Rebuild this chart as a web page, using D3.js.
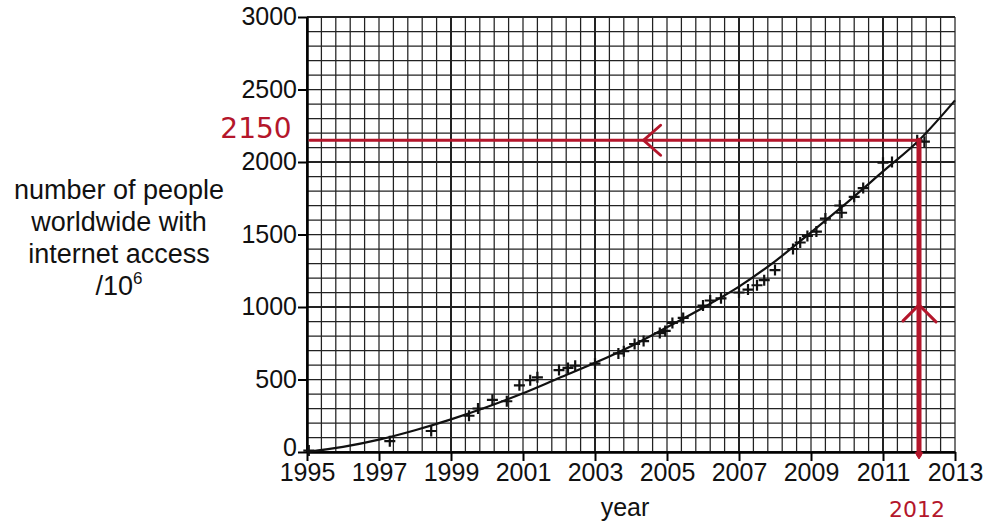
<!DOCTYPE html>
<html>
<head>
<meta charset="utf-8">
<script src="https://cdn.jsdelivr.net/npm/d3@7"></script>
<style>
  body { margin: 0; background: #fff; }
  svg { display: block; }
  svg text { font-family: "Liberation Sans", Arial, sans-serif; }
</style>
</head>
<body>
<div id="chart"></div>
<script>
// plotted measurements (year, millions of people)
const pointYears = [1995.05, 1997.3, 1998.45, 1999.5, 1999.75, 2000.15, 2000.55, 2000.9, 2001.2, 2001.4,
    2002.0, 2002.25, 2002.45, 2003.0, 2003.65, 2003.8, 2004.1, 2004.35, 2004.8, 2004.95,
    2005.15, 2005.45, 2006.0, 2006.2, 2006.5, 2007.0, 2007.25, 2007.5, 2007.7, 2008.0,
    2008.5, 2008.7, 2008.9, 2009.15, 2009.4, 2009.85, 2009.8, 2010.2, 2010.45, 2011.0,
    2011.25, 2011.95, 2012.15];
const pointValues = [10, 75, 145, 250, 300, 360, 350, 460, 495, 515,
    565, 580, 595, 610, 680, 695, 745, 765, 820, 835,
    890, 925, 1010, 1045, 1060, 1100, 1120, 1150, 1185, 1255,
    1400, 1445, 1490, 1520, 1610, 1650, 1700, 1760, 1820, 1995,
    2000, 2150, 2140];

// hand-drawn best fit curve, read at whole years
const curveYears = [1995, 1996, 1997, 1998, 1999, 2000, 2001, 2002, 2003, 2004,
    2005, 2006, 2007, 2008, 2009, 2010, 2011, 2012, 2013];
const curveValues = [0, 35, 85, 150, 225, 310, 405, 510, 615, 730,
    860, 995, 1140, 1315, 1515, 1720, 1935, 2150, 2425];

const xTicks = [1995, 1997, 1999, 2001, 2003, 2005, 2007, 2009, 2011, 2013];
const yTicks = [0, 500, 1000, 1500, 2000, 2500, 3000];

// the reading taken from the graph
const readYear = 2012;
const readValue = 2150;

const width = 991, height = 521;
const margin = {top: 17, right: 36, bottom: 69, left: 307};
const red = "#b4162b";
const font = "'Liberation Sans', Arial, sans-serif";
const hand = "'DejaVu Sans', sans-serif";

const svg = d3.select("#chart").append("svg")
    .attr("width", width)
    .attr("height", height);

const x = d3.scaleLinear().domain([1995, 2013]).range([margin.left, width - margin.right]);
const y = d3.scaleLinear().domain([0, 3000]).range([height - margin.bottom, margin.top]);

// graph paper grid: minor every 0.4 yr / 100, major every 4 yr / 1000
const g = svg.append("g");
d3.range(0, 46).forEach(i => {
    const yr = 1995 + i * 0.4;
    g.append("line")
        .attr("x1", x(yr)).attr("x2", x(yr))
        .attr("y1", y(0)).attr("y2", y(3000))
        .attr("stroke", "#222")
        .attr("stroke-width", i % 10 === 0 ? 2 : 1.25);
});
d3.range(0, 31).forEach(i => {
    const v = i * 100;
    g.append("line")
        .attr("x1", x(1995)).attr("x2", x(2013))
        .attr("y1", y(v)).attr("y2", y(v))
        .attr("stroke", "#222")
        .attr("stroke-width", i % 10 === 0 ? 2 : 1.25);
});

// axes
const xAxis = svg.append("g")
    .attr("transform", "translate(0," + y(0) + ")")
    .call(d3.axisBottom(x).tickValues(xTicks).tickFormat(d3.format("d")).tickSize(9).tickSizeOuter(0));
xAxis.select(".domain").attr("stroke", "#000").attr("stroke-width", 2.5);
xAxis.selectAll(".tick line").attr("stroke", "#000").attr("stroke-width", 2);
xAxis.selectAll(".tick text")
    .attr("y", 11)
    .attr("fill", "#111")
    .style("font-family", font)
    .style("font-size", "25px");

const yAxis = svg.append("g")
    .attr("transform", "translate(" + x(1995) + ",0)")
    .call(d3.axisLeft(y).tickValues(yTicks).tickFormat(d3.format("d")).tickSize(9).tickSizeOuter(0));
yAxis.select(".domain").attr("stroke", "#000").attr("stroke-width", 2.5);
yAxis.selectAll(".tick line").attr("stroke", "#000").attr("stroke-width", 2);
yAxis.selectAll(".tick text")
    .attr("x", -10)
    .attr("dy", d => d === 0 ? "0.15em" : "0.3em")
    .attr("fill", "#111")
    .style("font-family", font)
    .style("font-size", "25px");

// axis titles
svg.append("text")
    .attr("x", (x(1995) + x(2013)) / 2 - 6)
    .attr("y", 516)
    .attr("text-anchor", "middle")
    .style("font-family", font)
    .style("font-size", "25px")
    .attr("fill", "#111")
    .text("year");

const titleLines = ["number of people", "worldwide with", "internet access"];
const yTitle = svg.append("text")
    .attr("text-anchor", "middle")
    .style("font-family", font)
    .style("font-size", "27px")
    .attr("fill", "#111");
titleLines.forEach((t, i) => {
    yTitle.append("tspan").attr("x", 119).attr("y", 199 + i * 32).text(t);
});
const unit = yTitle.append("tspan").attr("x", 119).attr("y", 295);
unit.append("tspan").text("/10");
unit.append("tspan").attr("dy", -11).style("font-size", "17px").text("6");

// best fit curve
const line = d3.line()
    .x((d, i) => x(curveYears[i]))
    .y(d => y(d))
    .curve(d3.curveMonotoneX);
svg.append("path")
    .datum(curveValues)
    .attr("fill", "none")
    .attr("stroke", "#111")
    .attr("stroke-width", 2.2)
    .attr("d", line);

// data crosses
const s = 5.5;
svg.append("g")
    .selectAll("path")
    .data(pointValues)
    .join("path")
    .attr("d", (d, i) => {
        const px = x(pointYears[i]), py = y(d);
        return "M" + (px - s) + "," + py + "H" + (px + s) + "M" + px + "," + (py - s) + "V" + (py + s);
    })
    .attr("stroke", "#111")
    .attr("stroke-width", 2.2)
    .attr("fill", "none");

// red reading lines
const ann = svg.append("g").attr("stroke", red).attr("fill", "none").attr("stroke-linecap", "round");
ann.append("line")
    .attr("x1", x(1995) + 3).attr("x2", x(readYear))
    .attr("y1", y(readValue)).attr("y2", y(readValue))
    .attr("stroke-width", 3);
ann.append("line")
    .attr("x1", x(readYear)).attr("x2", x(readYear))
    .attr("y1", y(readValue)).attr("y2", y(0) + 3)
    .attr("stroke-width", 5);
// arrow on horizontal line, pointing left
const ax = x(2004.35);
ann.append("path")
    .attr("d", "M" + (ax + 17) + "," + (y(readValue) - 15) + "L" + ax + "," + y(readValue) + "L" + (ax + 17) + "," + (y(readValue) + 15))
    .attr("stroke-width", 3);
// arrow on vertical line, pointing up
const ay = y(1015);
ann.append("path")
    .attr("d", "M" + (x(readYear) - 16) + "," + (ay + 16) + "L" + x(readYear) + "," + ay + "L" + (x(readYear) + 17) + "," + (ay + 17))
    .attr("stroke-width", 3);
// small tip below the axis
ann.append("path")
    .attr("d", "M" + (x(readYear) - 3.5) + "," + (y(0) + 1) + "L" + x(readYear) + "," + (y(0) + 7) + "L" + (x(readYear) + 3.5) + "," + (y(0) + 1) + "Z")
    .attr("fill", red)
    .attr("stroke-width", 1);

svg.append("text")
    .attr("x", 256)
    .attr("y", 138)
    .attr("text-anchor", "middle")
    .attr("fill", red)
    .style("font-size", "28px")
    .style("font-family", hand)
    .text(readValue);

svg.append("text")
    .attr("x", x(readYear) - 2)
    .attr("y", 517)
    .attr("text-anchor", "middle")
    .attr("fill", red)
    .style("font-size", "22px")
    .style("font-family", hand)
    .text(readYear);
</script>
</body>
</html>
